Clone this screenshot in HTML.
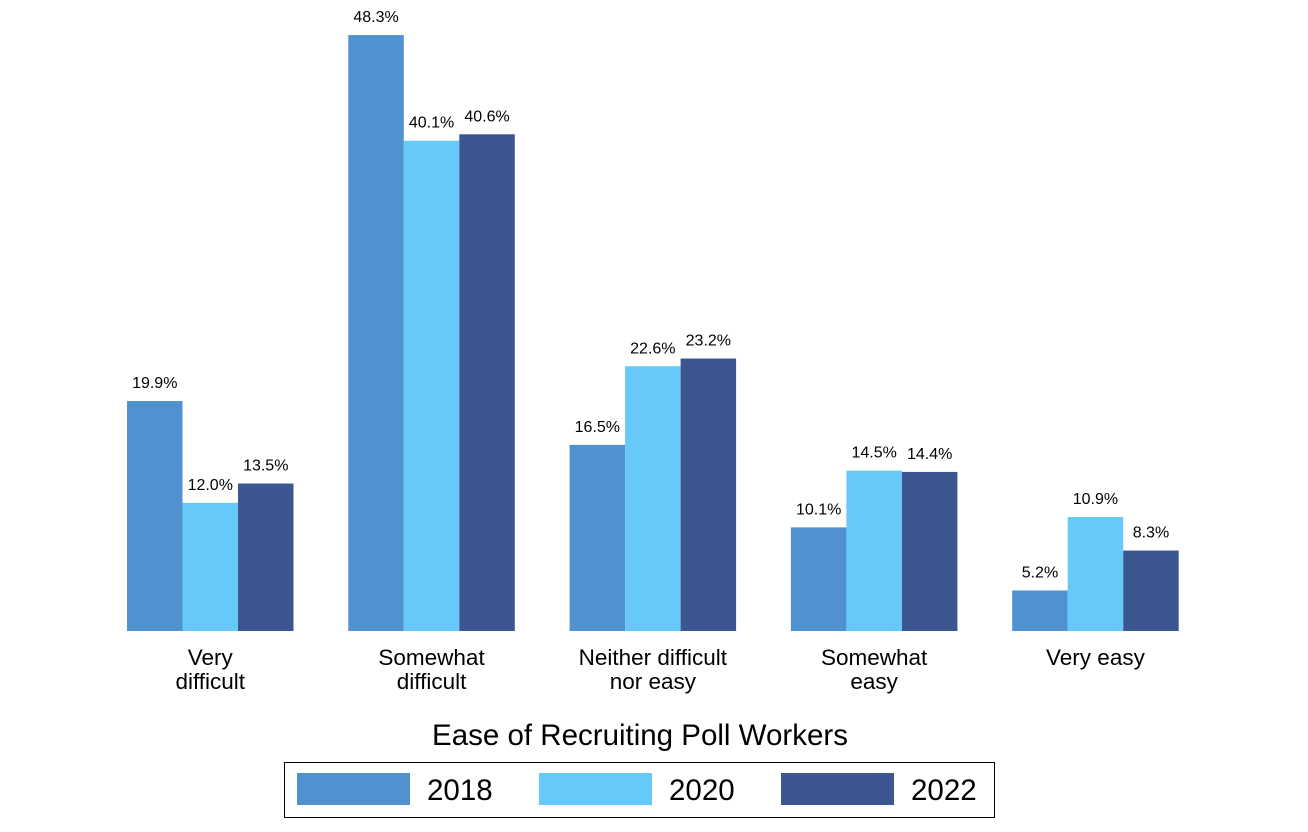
<!DOCTYPE html>
<html><head><meta charset="utf-8">
<style>
body{margin:0;background:#fff;font-family:"Liberation Sans",Arial,sans-serif;}
svg{display:block}
</style></head>
<body>
<svg id="chart" width="1308" height="832" xmlns="http://www.w3.org/2000/svg">
<g id="bars"></g>
<g id="xlabels"></g>
<text x="640" y="745" text-anchor="middle" font-size="29.5" fill="#000">Ease of Recruiting Poll Workers</text>
<g id="legend">
<rect x="284.5" y="762.5" width="710" height="55" fill="none" stroke="#000" stroke-width="1"/>
</g>
</svg>
<script>
const categories=[["Very","difficult"],["Somewhat","difficult"],["Neither difficult","nor easy"],["Somewhat","easy"],["Very easy"]];
const years=["2018","2020","2022"];
const colors=["#4f92cf","#66c9f9","#3c578f"];
const s2018=[19.9,48.3,16.5,10.1,5.2];
const s2020=[12.0,40.1,22.6,14.5,10.9];
const s2022=[13.5,40.6,23.2,14.4,8.3];
const series=[s2018,s2020,s2022];
const NS="http://www.w3.org/2000/svg";
function y(v){return 657.5-12.887*v;}
const baseY=631;
function gx(i){return 127+i*221.3;}
const bw=55.5;
const bars=document.getElementById('bars');
series.forEach((s,k)=>{
  s.forEach((v,i)=>{
    const r=document.createElementNS(NS,'rect');
    const x=gx(i)+k*bw;
    r.setAttribute('x',x);r.setAttribute('y',y(v));
    r.setAttribute('width',bw);r.setAttribute('height',baseY-y(v));
    r.setAttribute('fill',colors[k]);
    
    
    bars.appendChild(r);
    const t=document.createElementNS(NS,'text');
    t.setAttribute('x',x+bw/2);t.setAttribute('y',y(v)-13);
    t.setAttribute('text-anchor','middle');t.setAttribute('font-size','16');
    t.textContent=v.toFixed(1)+'%';
    
    
    bars.appendChild(t);
  });
});
const xl=document.getElementById('xlabels');
categories.forEach((c,i)=>{
  c.forEach((line,j)=>{
    const t=document.createElementNS(NS,'text');
    t.setAttribute('x',gx(i)+bw*1.5);t.setAttribute('y',665+j*24);
    t.setAttribute('text-anchor','middle');t.setAttribute('font-size','22.5');
    t.textContent=line;
    
    
    xl.appendChild(t);
  });
});
const lg=document.getElementById('legend');
years.forEach((yr,k)=>{
  const r=document.createElementNS(NS,'rect');
  r.setAttribute('x',297+k*242);r.setAttribute('y',773);
  r.setAttribute('width',113);r.setAttribute('height',32);
  r.setAttribute('fill',colors[k]);
  
  
  lg.appendChild(r);
  const t=document.createElementNS(NS,'text');
  t.setAttribute('x',427+k*242);t.setAttribute('y',800);
  t.setAttribute('font-size','29.5');
  t.textContent=yr;
  
  
  lg.appendChild(t);
});
</script>
</body></html>
